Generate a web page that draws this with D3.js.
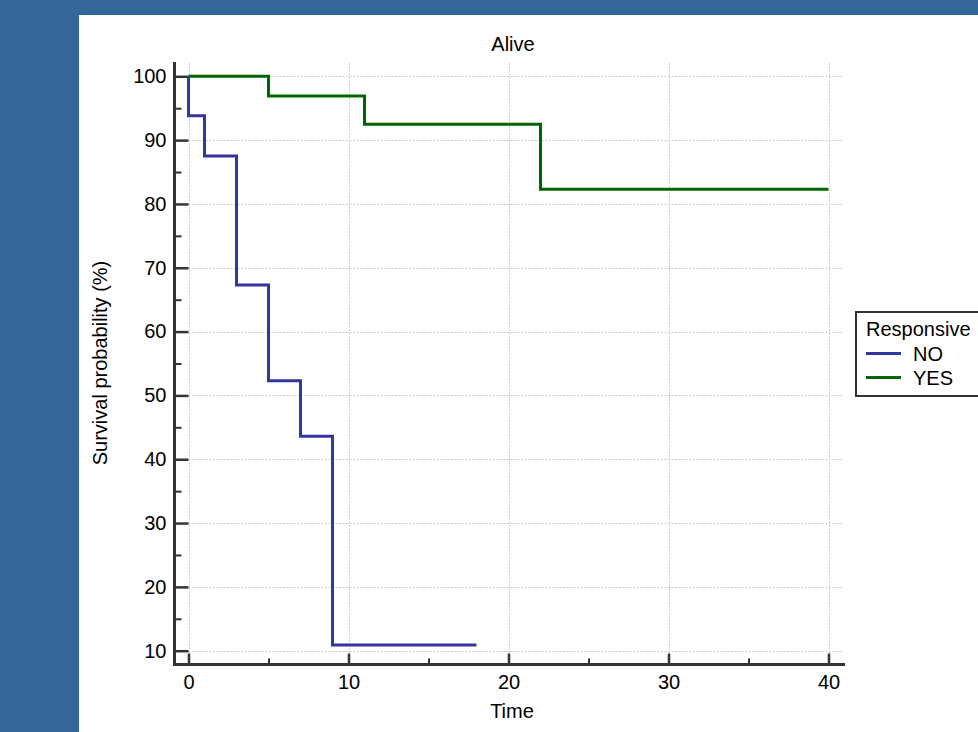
<!DOCTYPE html>
<html>
<head>
<meta charset="utf-8">
<script src="https://cdn.jsdelivr.net/npm/d3@7"></script>
<style>
  body { margin: 0; background: #336699; }
  svg { display: block; font-family: "Liberation Sans", Arial, sans-serif; }
</style>
</head>
<body>
<svg id="chart" width="978" height="732"></svg>
<script>
// Kaplan-Meier curves (step after each time)
var seriesNames = ["NO", "YES"];
var noTimes = [0, 0, 1, 3, 5, 7, 9, 18];
var noSurv = [100, 93.8, 87.5, 67.3, 52.3, 43.6, 10.9, 10.9];
var yesTimes = [0, 5, 11, 22, 40];
var yesSurv = [100, 96.9, 92.5, 82.3, 82.3];
var xTicks = [0, 10, 20, 30, 40];
var xMinor = [5, 15, 25, 35];
var yTicks = [10, 20, 30, 40, 50, 60, 70, 80, 90, 100];
var yMinor = [15, 25, 35, 45, 55, 65, 75, 85, 95];

var colors = ["#3535a0", "#006600"];
var fontSize = "20px";

var svg = d3.select("#chart");

// white panel
svg.append("rect")
  .attr("x", 79).attr("y", 15)
  .attr("width", 978 - 79).attr("height", 732 - 15)
  .attr("fill", "#fff");

var x = d3.scaleLinear().domain([0, 40]).range([188.5, 828.5]);
var y = d3.scaleLinear().domain([10, 100]).range([650.7, 76.3]);

var axisX = 174.5, axisY = 664.5;  // axis line positions
var plotTop = 62, plotRight = 845;

// grid
var grid = svg.append("g")
  .attr("stroke", "#cccccc")
  .attr("stroke-width", 1)
  .attr("stroke-dasharray", "2,1.5");
grid.selectAll(".gy").data(yTicks).enter().append("line")
  .attr("x1", axisX + 14).attr("x2", plotRight - 2)
  .attr("y1", d => Math.round(y(d)) + 0.5)
  .attr("y2", d => Math.round(y(d)) + 0.5);
grid.selectAll(".gx").data(xTicks).enter().append("line")
  .attr("x1", d => Math.round(x(d)) + 0.5)
  .attr("x2", d => Math.round(x(d)) + 0.5)
  .attr("y1", plotTop + 1).attr("y2", axisY - 11);

// Y axis
var yAxis = svg.append("g")
  .attr("transform", "translate(" + axisX + ",0)")
  .style("font-size", fontSize)
  .call(d3.axisLeft(y).tickValues(yTicks).tickSizeInner(-14).tickSizeOuter(0).tickPadding(8));
yAxis.select(".domain").remove();
yAxis.selectAll(".tick line").attr("stroke", "#333").attr("stroke-width", 2.5);
yAxis.selectAll(".tick text").attr("fill", "#000").attr("font-family", "Liberation Sans, Arial, sans-serif");

var yAxisMinor = svg.append("g")
  .attr("transform", "translate(" + axisX + ",0)")
  .call(d3.axisLeft(y).tickValues(yMinor).tickSizeInner(-7).tickSizeOuter(0).tickFormat(""));
yAxisMinor.select(".domain").remove();
yAxisMinor.selectAll(".tick line").attr("stroke", "#333").attr("stroke-width", 2);

// X axis
var xAxis = svg.append("g")
  .attr("transform", "translate(0," + axisY + ")")
  .style("font-size", fontSize)
  .call(d3.axisBottom(x).tickValues(xTicks).tickSizeInner(-11).tickSizeOuter(0).tickPadding(10));
xAxis.select(".domain").remove();
xAxis.selectAll(".tick line").attr("stroke", "#333").attr("stroke-width", 2.5);
xAxis.selectAll(".tick text").attr("fill", "#000").attr("font-family", "Liberation Sans, Arial, sans-serif");

var xAxisMinor = svg.append("g")
  .attr("transform", "translate(0," + axisY + ")")
  .call(d3.axisBottom(x).tickValues(xMinor).tickSizeInner(-6).tickSizeOuter(0).tickFormat(""));
xAxisMinor.select(".domain").remove();
xAxisMinor.selectAll(".tick line").attr("stroke", "#333").attr("stroke-width", 2);

// axis lines
svg.append("line")
  .attr("x1", axisX).attr("x2", axisX)
  .attr("y1", plotTop).attr("y2", axisY + 1.5)
  .attr("stroke", "#333").attr("stroke-width", 3);
svg.append("line")
  .attr("x1", axisX - 1.5).attr("x2", plotRight)
  .attr("y1", axisY).attr("y2", axisY)
  .attr("stroke", "#333").attr("stroke-width", 3);

// survival curves
var line = d3.line()
  .x(d => x(d[0]))
  .y(d => y(d[1]))
  .curve(d3.curveStepAfter);

var curves = [d3.zip(noTimes, noSurv), d3.zip(yesTimes, yesSurv)];
svg.append("g").selectAll("path").data(curves).enter().append("path")
  .attr("d", line)
  .attr("fill", "none")
  .attr("stroke", (d, i) => colors[i])
  .attr("stroke-width", 3);

// title and axis labels
svg.append("text")
  .attr("x", 513).attr("y", 51)
  .attr("text-anchor", "middle")
  .style("font-size", fontSize)
  .text("Alive");

svg.append("text")
  .attr("x", 512).attr("y", 718)
  .attr("text-anchor", "middle")
  .style("font-size", fontSize)
  .text("Time");

svg.append("text")
  .attr("transform", "translate(107,363) rotate(-90)")
  .attr("text-anchor", "middle")
  .style("font-size", fontSize)
  .text("Survival probability (%)");

// legend
var legend = svg.append("g").attr("transform", "translate(856,312)");
legend.append("rect")
  .attr("x", 0).attr("y", 0)
  .attr("width", 140).attr("height", 84)
  .attr("fill", "#fff")
  .attr("stroke", "#333")
  .attr("stroke-width", 2);
legend.append("text")
  .attr("x", 10).attr("y", 24)
  .style("font-size", fontSize)
  .text("Responsive");
var items = legend.selectAll(".item").data(seriesNames).enter().append("g")
  .attr("transform", (d, i) => "translate(0," + (41.5 + i * 24) + ")");
items.append("line")
  .attr("x1", 10).attr("x2", 45)
  .attr("stroke", (d, i) => colors[i])
  .attr("stroke-width", 3);
items.append("text")
  .attr("x", 57).attr("y", 7)
  .style("font-size", fontSize)
  .text(d => d);
</script>
</body>
</html>
